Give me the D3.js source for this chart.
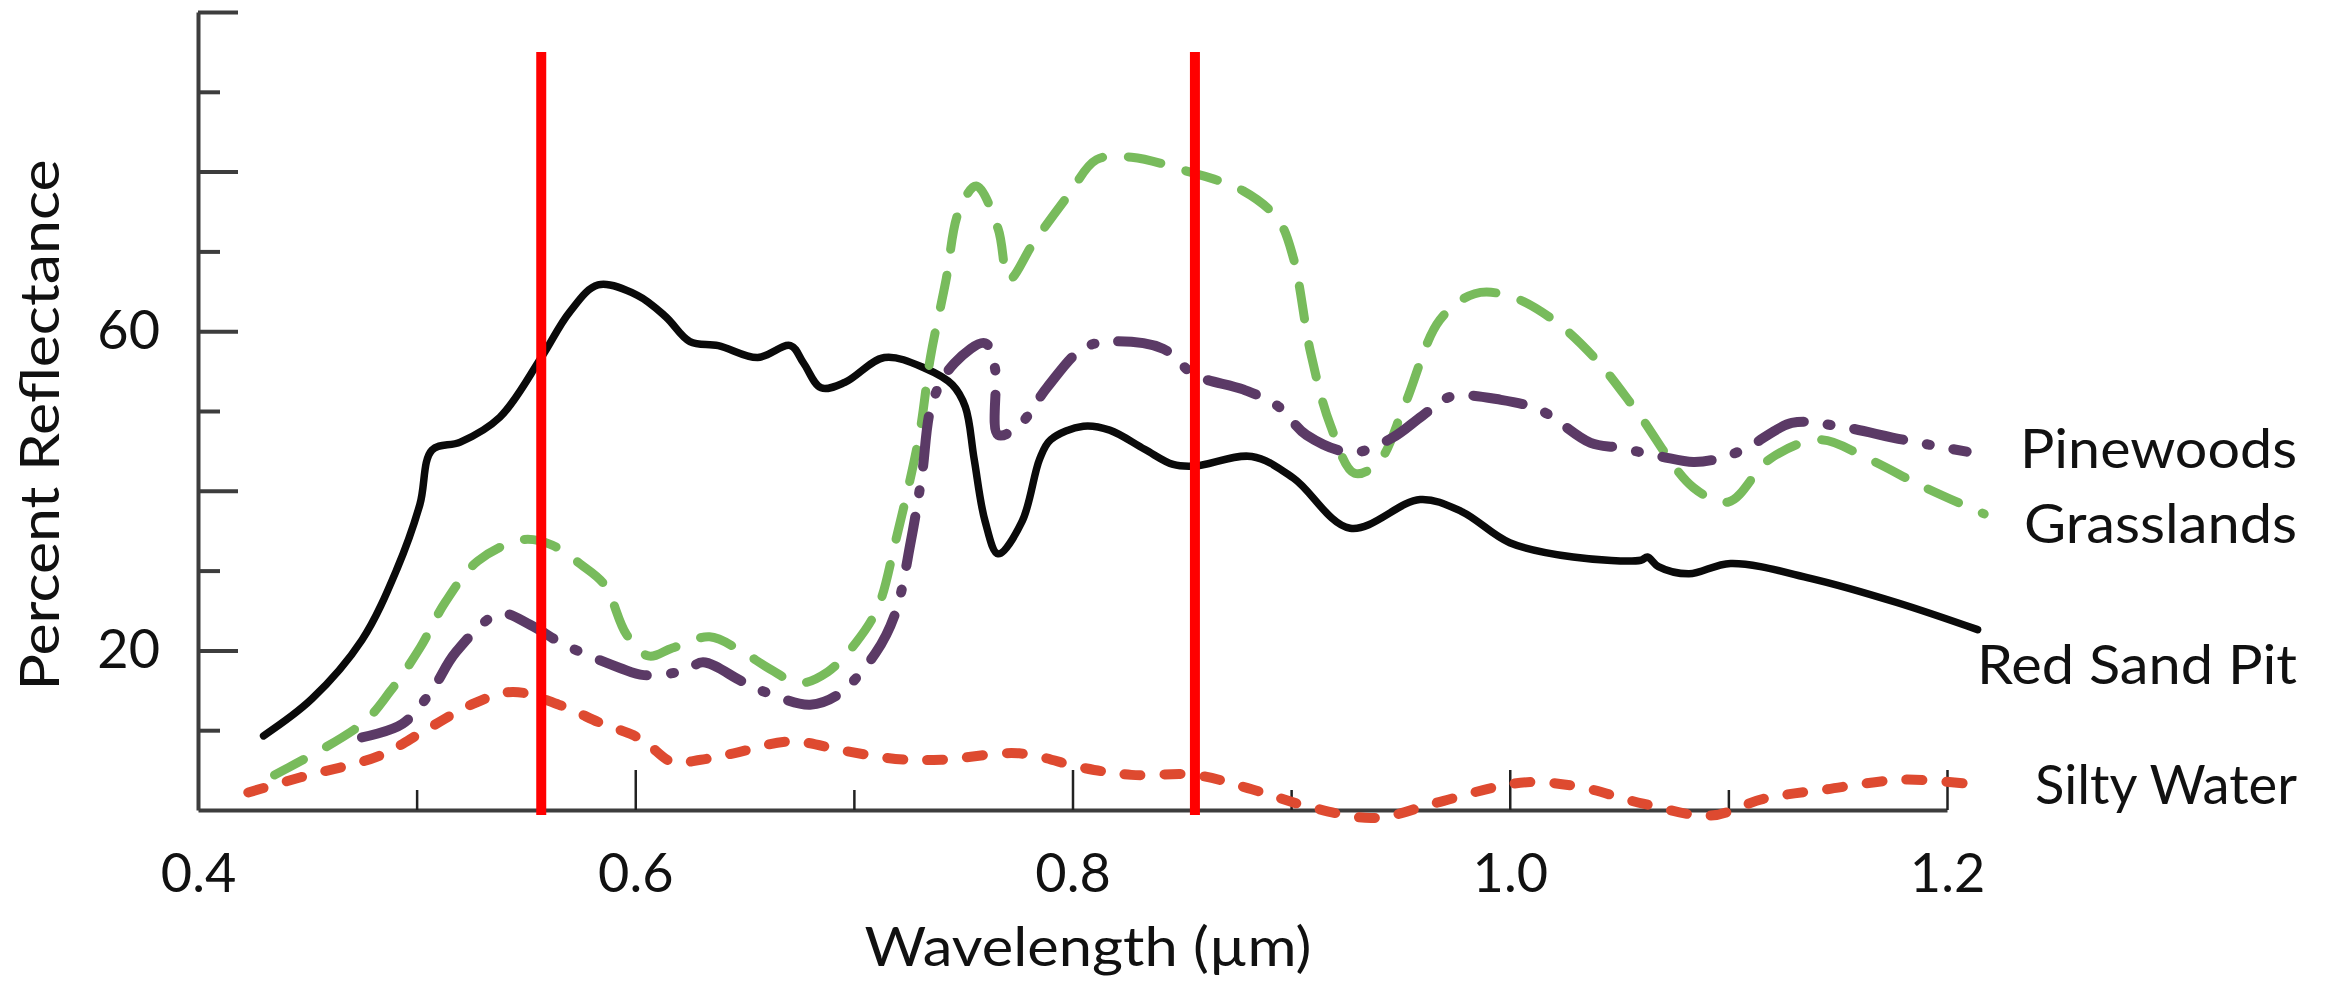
<!DOCTYPE html>
<html>
<head>
<meta charset="utf-8">
<script src="https://cdn.jsdelivr.net/npm/d3@7"></script>
<style>
  html, body { margin: 0; padding: 0; background: #fff; }
  text { font-family: "Century Gothic", "Lato", sans-serif; fill: #111; }
</style>
</head>
<body>
<svg id="chart" width="2325" height="984"></svg>
<script>
// wavelength (µm), percent reflectance
const redSandPit = [[0.430,9.3],[0.452,13.9],[0.475,21.3],[0.491,30.2],[0.5015,38.3],[0.507,45.1],[0.520,46.1],[0.538,49.2],[0.557,56.7],[0.570,62.4],[0.583,65.8],[0.601,64.5],[0.614,61.8],[0.625,58.7],[0.638,58.2],[0.656,56.7],[0.671,58.2],[0.677,56.0],[0.685,52.9],[0.696,53.6],[0.714,56.7],[0.733,55.3],[0.745,53.3],[0.751,50.5],[0.755,44.0],[0.760,36.2],[0.766,32.1],[0.777,36.2],[0.785,44.0],[0.790,46.4],[0.805,48.1],[0.817,47.6],[0.833,45.2],[0.846,43.3],[0.856,43.1],[0.882,44.3],[0.901,41.6],[0.927,35.3],[0.959,38.9],[0.978,37.4],[1.000,33.5],[1.029,31.7],[1.060,31.3],[1.063,31.7],[1.068,30.5],[1.082,29.6],[1.101,30.9],[1.138,29.0],[1.177,26.0],[1.214,22.6]]

const grasslands = [[0.435,4.4],[0.475,10.8],[0.488,14.9],[0.5015,20.3],[0.513,26.0],[0.528,31.2],[0.549,33.9],[0.562,33.2],[0.575,30.8],[0.586,28.2],[0.596,22.0],[0.606,19.3],[0.617,20.3],[0.634,21.7],[0.648,20.0],[0.662,17.6],[0.675,15.9],[0.688,17.3],[0.701,21.0],[0.711,25.4],[0.719,33.6],[0.730,47.1],[0.735,56.7],[0.742,66.2],[0.748,75.0],[0.756,78.2],[0.766,72.8],[0.771,66.5],[0.782,71.0],[0.798,77.0],[0.811,81.5],[0.827,81.8],[0.853,80.0],[0.878,77.6],[0.894,74.0],[0.901,69.2],[0.909,57.2],[0.918,48.2],[0.929,42.2],[0.940,43.6],[0.952,50.8],[0.968,61.4],[0.984,64.7],[1.000,64.4],[1.020,61.4],[1.039,56.6],[1.058,50.0],[1.084,40.4],[1.100,38.6],[1.119,44.0],[1.142,46.4],[1.164,44.0],[1.190,40.4],[1.217,37.1]]

const pinewoods = [[0.475,9.1],[0.4935,10.8],[0.507,15.0],[0.518,19.8],[0.538,24.6],[0.552,23.2],[0.567,20.8],[0.593,17.8],[0.604,16.9],[0.623,17.5],[0.631,18.5],[0.649,16.1],[0.662,14.5],[0.680,13.2],[0.693,14.5],[0.710,19.7],[0.719,24.7],[0.726,33.6],[0.731,41.7],[0.736,51.2],[0.746,56.0],[0.760,58.5],[0.7645,55.4],[0.766,47.0],[0.7756,48.2],[0.7885,53.0],[0.8045,57.8],[0.8174,58.7],[0.8414,57.8],[0.856,54.5],[0.878,52.7],[0.894,50.6],[0.907,47.0],[0.928,44.8],[0.946,46.6],[0.960,49.4],[0.973,51.8],[0.996,51.4],[1.014,50.1],[1.037,46.0],[1.050,45.4],[1.069,44.3],[1.084,43.6],[1.095,44.0],[1.108,45.3],[1.129,48.5],[1.148,48.2],[1.180,46.4],[1.209,44.9]]

const siltyWater = [[0.423,2.2],[0.447,4.1],[0.483,6.8],[0.504,10.0],[0.525,13.2],[0.544,14.8],[0.566,13.1],[0.585,10.8],[0.599,9.4],[0.606,8.2],[0.617,6.0],[0.630,6.3],[0.645,7.1],[0.671,8.6],[0.696,7.4],[0.719,6.4],[0.740,6.3],[0.7756,7.1],[0.8045,5.3],[0.827,4.4],[0.856,4.4],[0.882,2.6],[0.907,0.5],[0.938,-1.0],[0.965,0.8],[0.994,2.9],[1.010,3.5],[1.032,2.9],[1.061,0.8],[1.092,-0.7],[1.116,1.4],[1.145,2.6],[1.180,3.8],[1.212,3.2]]

const bandLines = [0.557, 0.856]   // the two red markers
const xTicks = [0.4, 0.5, 0.6, 0.7, 0.8, 0.9, 1.0, 1.1, 1.2]
const xLabelTicks = [0.4, 0.6, 0.8, 1.0, 1.2]
const yTicks = [0, 10, 20, 30, 40, 50, 60, 70, 80, 90, 100]
const yLabelTicks = [20, 60]

const series = [
  { name: "Red Sand Pit", values: redSandPit, color: "#0a0a0a", dash: null, width: 7.5, labelY: 684, len: 320 },
  { name: "Grasslands", values: grasslands, color: "#78bb5c", dash: "33 26", width: 9, labelY: 543, len: 273 },
  { name: "Pinewoods", values: pinewoods, color: "#5b3a66", dash: "50 24 3 24", width: 10, labelY: 468, len: 277 },
  { name: "Silty Water", values: siltyWater, color: "#de4a30", dash: "16 24", width: 10, labelY: 804, len: 262 }
]

const svg = d3.select("#chart")
const x = d3.scaleLinear().domain([0.4, 1.2]).range([198, 1947])
const y = d3.scaleLinear().domain([0, 100]).range([810, 12])

// x axis, ticks point up into the plot
const xAxis = svg.append("g")
  .attr("transform", `translate(0,${y(0)})`)
  .call(d3.axisBottom(x)
    .tickValues(xTicks)
    .tickSizeInner(-40)
    .tickSizeOuter(0)
    .tickPadding(44)
    .tickFormat(d => xLabelTicks.some(t => Math.abs(t - d) < 1e-6) ? d3.format(".1f")(d) : ""))

xAxis.select(".domain").attr("stroke", "#3d3d3d").attr("stroke-width", 4)
xAxis.selectAll(".tick line")
  .attr("stroke", "#222")
  .attr("stroke-width", 2.5)
  .attr("y2", d => Math.round(d * 10) % 2 === 0 ? -40 : -20)
  .filter(d => d === 0.4).remove()
xAxis.selectAll(".tick text").attr("font-size", 54).attr("fill", "#111")

// y axis, ticks point right
const yAxis = svg.append("g")
  .attr("transform", `translate(${x(0.4)},0)`)
  .call(d3.axisLeft(y)
    .tickValues(yTicks)
    .tickSizeInner(-40)
    .tickSizeOuter(0)
    .tickPadding(38)
    .tickFormat(d => yLabelTicks.includes(d) ? d : ""))

yAxis.select(".domain").attr("stroke", "#3d3d3d").attr("stroke-width", 4)
yAxis.selectAll(".tick line")
  .attr("stroke", "#3d3d3d")
  .attr("stroke-width", 4)
  .attr("x2", d => d % 20 === 0 ? 40 : 22)
  .filter(d => d === 0).remove()
yAxis.selectAll(".tick text").attr("font-size", 54).attr("fill", "#111")

// series
const line = d3.line()
  .x(d => x(d[0]))
  .y(d => y(d[1]))
  .curve(d3.curveCatmullRom.alpha(0.5))

svg.append("g").selectAll("path")
  .data(series)
  .join("path")
  .attr("d", d => line(d.values))
  .attr("fill", "none")
  .attr("stroke", d => d.color)
  .attr("stroke-width", d => d.width)
  .attr("stroke-linecap", "round")
  .attr("stroke-linejoin", "round")
  .attr("stroke-dasharray", d => d.dash)

// red band markers
svg.append("g").selectAll("line")
  .data(bandLines)
  .join("line")
  .attr("x1", d => x(d)).attr("x2", d => x(d))
  .attr("y1", y(95)).attr("y2", y(0) + 5)
  .attr("stroke", "#ff0000")
  .attr("stroke-width", 10)

// labels at the right
svg.append("g").selectAll("text")
  .data(series)
  .join("text")
  .attr("x", 2297)
  .attr("y", d => d.labelY)
  .attr("text-anchor", "end")
  .attr("font-size", 55)
  .attr("textLength", d => d.len)
  .attr("lengthAdjust", "spacingAndGlyphs")
  .text(d => d.name)

svg.append("text")
  .attr("x", 1088).attr("y", 966)
  .attr("text-anchor", "middle")
  .attr("font-size", 55)
  .attr("textLength", 447)
  .attr("lengthAdjust", "spacingAndGlyphs")
  .text("Wavelength (µm)")

svg.append("text")
  .attr("transform", "translate(59,425) rotate(-90)")
  .attr("text-anchor", "middle")
  .attr("font-size", 55)
  .attr("textLength", 531)
  .attr("lengthAdjust", "spacingAndGlyphs")
  .text("Percent Reflectance")
</script>
</body>
</html>
